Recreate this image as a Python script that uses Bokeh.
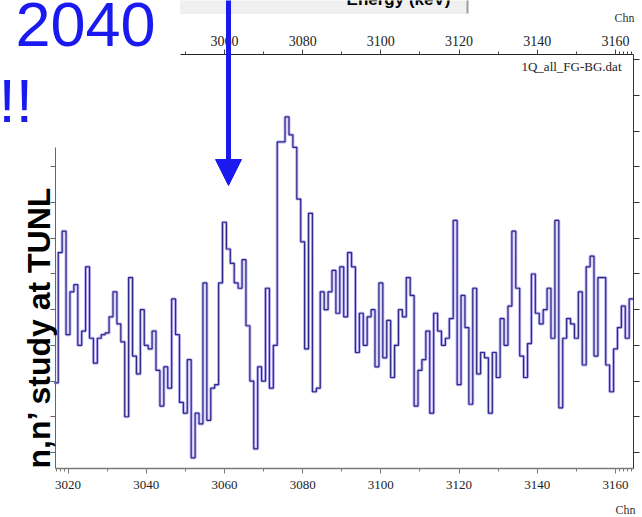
import math
from bokeh.plotting import figure
from bokeh.models import Range1d, LinearAxis, FixedTicker, Label, Arrow, NormalHead, BoxAnnotation
from bokeh.embed import file_html
from bokeh.resources import INLINE

# ---------------- data ----------------
channels = list(range(3017, 3165))
counts = [39, 112, 124, 66, 90, 94, 60, 68, 104, 64, 50, 64, 66, 67, 76, 90, 72, 62, 20, 98,
          54, 44, 80, 60, 58, 68, 46, 26, 48, 36, 86, 66, 28, 22, 52, -3, 22, 16, 95, 18,
          36, 38, 95, 129, 114, 106, 95, 92, 108, 71, 40, 2, 48, 40, 92, 36, 60, 174, 174, 188,
          178, 171, 142, 118, 58, 134, 34, 36, 90, 80, 90, 102, 78, 104, 76, 112, 104, 56, 78, 60,
          76, 80, 48, 95, 53, 74, 42, 60, 80, 76, 98, 88, 26, 46, 52, 68, 22, 78, 68, 60,
          64, 75, 130, 38, 88, 70, 27, 92, 44, 56, 53, 22, 56, 42, 75, 60, 82, 124, 92, 54,
          42, 61, 100, 78, 72, 80, 92, 64, 130, 25, 64, 75, 72, 64, 90, 49, 104, 110, 54, 98,
          98, 49, 34, 58, 70, 82, 64, 86]
x_ticks = [3020, 3040, 3060, 3080, 3100, 3120, 3140, 3160]
x_minor = [3017, 3018, 3019, 3030, 3050, 3070, 3090, 3110, 3130, 3150, 3161, 3162, 3163, 3164]
y_ticks = [0, 20, 40, 60, 80, 100, 120, 140, 160, 180, 200, 220]
file_label = "1Q_all_FG-BG.dat"
axis_unit = "Chn"
top_title = "Energy (keV)"
big_text = "2040"
bang_text = "!!"
side_text = "n,n\u2019 study at TUNL"

# ---------------- layout (spectrum box inside the page) ----------------
W, H = 642, 517
FL, FR, FT, FB = 55, 633, 54, 468          # spectrum box edges, pixels
X0, X1 = 3016.8, 3164.6                     # channel range of the spectrum box
Y0, Y1 = -9, 223                            # count range of the spectrum box


def X(px):
    return X0 + (px - FL) / (FR - FL) * (X1 - X0)


def Y(py):
    return Y0 + (FB - py) / (FB - FT) * (Y1 - Y0)


p = figure(width=W, height=H, x_range=Range1d(X(0), X(W)), y_range=Range1d(Y(H), Y(0)),
           output_backend="svg", toolbar_location=None,
           x_axis_location=None, y_axis_location=None,
           min_border=0, min_border_left=0, min_border_right=0, min_border_top=0, min_border_bottom=0)
p.outline_line_color = None
p.background_fill_color = "white"
p.border_fill_color = "white"
p.grid.visible = False

serif = "Liberation Serif"

bottom = LinearAxis(ticker=FixedTicker(ticks=x_ticks, minor_ticks=x_minor),
                    fixed_location=Y0, bounds=(X0, X1))
bottom.axis_line_color = "#7a7a7a"
bottom.axis_line_width = 1.5
bottom.major_tick_line_color = "#7a7a7a"
bottom.minor_tick_line_color = "#7a7a7a"
bottom.major_tick_out, bottom.major_tick_in = 5, 0
bottom.minor_tick_out, bottom.minor_tick_in = 3, 0
bottom.major_label_text_font = serif
bottom.major_label_text_font_size = "13px"
bottom.major_label_text_color = "#222222"
bottom.major_label_standoff = 7
p.add_layout(bottom, "below")

top_start = X(180)
top = LinearAxis(ticker=FixedTicker(ticks=[t for t in x_ticks if t >= top_start],
                                    minor_ticks=[t for t in x_minor if t >= top_start]),
                 fixed_location=Y1, bounds=(top_start, X1))
top.axis_line_color = "#222222"
top.major_tick_line_color = "#444444"
top.minor_tick_line_color = "#444444"
top.major_tick_out, top.major_tick_in = 5, 0
top.minor_tick_out, top.minor_tick_in = 3, 0
top.major_label_text_font = serif
top.major_label_text_font_size = "14px"
top.major_label_text_color = "#222222"
top.major_label_standoff = 4
p.add_layout(top, "above")

left_end = Y(147)
left_ticks = [t for t in y_ticks if t <= left_end]
left = LinearAxis(ticker=FixedTicker(ticks=left_ticks, minor_ticks=[]),
                  fixed_location=X0, bounds=(Y0, left_end))
left.axis_line_color = "#666666"
left.major_tick_line_color = "#666666"
left.major_tick_out, left.major_tick_in = 5, 0
left.minor_tick_out, left.minor_tick_in = 0, 0
left.major_label_overrides = {t: "" for t in left_ticks}
left.major_label_standoff = 0
p.add_layout(left, "left")

right = LinearAxis(ticker=FixedTicker(ticks=y_ticks, minor_ticks=[]),
                   fixed_location=X1, bounds=(Y0, Y1))
right.axis_line_color = "#333333"
right.major_tick_line_color = "#333333"
right.major_tick_out, right.major_tick_in = 6, 0
right.minor_tick_out, right.minor_tick_in = 0, 0
right.major_label_overrides = {t: "" for t in y_ticks}
right.major_label_standoff = 0
p.add_layout(right, "right")

# ---------------- spectrum ----------------
edges = [c - 0.5 for c in channels] + [channels[-1] + 0.5]
vals = counts + [counts[-1]]
p.step(edges, vals, mode="after", line_color="#b4aaf0", line_width=3.0, line_alpha=0.9)
p.step(edges, vals, mode="after", line_color="#2f2a88", line_width=1.2)

# ---------------- annotations ----------------
p.add_layout(Label(x=X(621), y=Y(66), text=file_label, text_align="right", text_baseline="middle",
                   text_font=serif, text_font_size="13px", text_color="#222222"))
p.add_layout(Label(x=X(634), y=Y(17), text=axis_unit, text_align="right", text_baseline="middle",
                   text_font=serif, text_font_size="12px", text_color="#333333"))
p.add_layout(Label(x=X(635), y=Y(509), text=axis_unit, text_align="right", text_baseline="middle",
                   text_font=serif, text_font_size="12px", text_color="#333333"))

p.add_layout(BoxAnnotation(left=X(180), right=X(467), top=Y(-10), bottom=Y(13),
                           fill_color="#f0f0f0", fill_alpha=1.0, line_color="#dcdcdc", line_width=1))
p.add_layout(BoxAnnotation(left=X(466), right=X(468), top=Y(-10), bottom=Y(13),
                           fill_color="#9c9c9c", fill_alpha=1.0, line_color=None, line_width=0))
p.add_layout(Label(x=X(398), y=Y(-1), text=top_title, text_align="center", text_baseline="middle",
                   text_font="Liberation Sans", text_font_style="bold", text_font_size="17px",
                   text_color="black"))

blue = "#1a1af0"
p.add_layout(Label(x=X(15), y=Y(24), text=big_text, text_align="left", text_baseline="middle",
                   text_font="Liberation Sans", text_font_size="63px", text_color=blue))
p.add_layout(Label(x=X(-2), y=Y(99.5), text=bang_text, text_align="left", text_baseline="middle",
                   text_font="Liberation Sans", text_font_size="62px", text_color=blue))
p.add_layout(Label(x=X(38.5), y=Y(468), text=side_text, angle=math.pi / 2, text_align="left",
                   text_baseline="middle", text_font="Liberation Sans", text_font_style="bold",
                   text_font_size="32px", text_color="black"))

p.add_layout(Arrow(end=NormalHead(size=26, fill_color=blue, line_color=blue, line_width=1),
                   x_start=X(228), y_start=Y(-10), x_end=X(228), y_end=Y(185),
                   line_color=blue, line_width=5))

open("out.html", "w").write(file_html(p, INLINE))
